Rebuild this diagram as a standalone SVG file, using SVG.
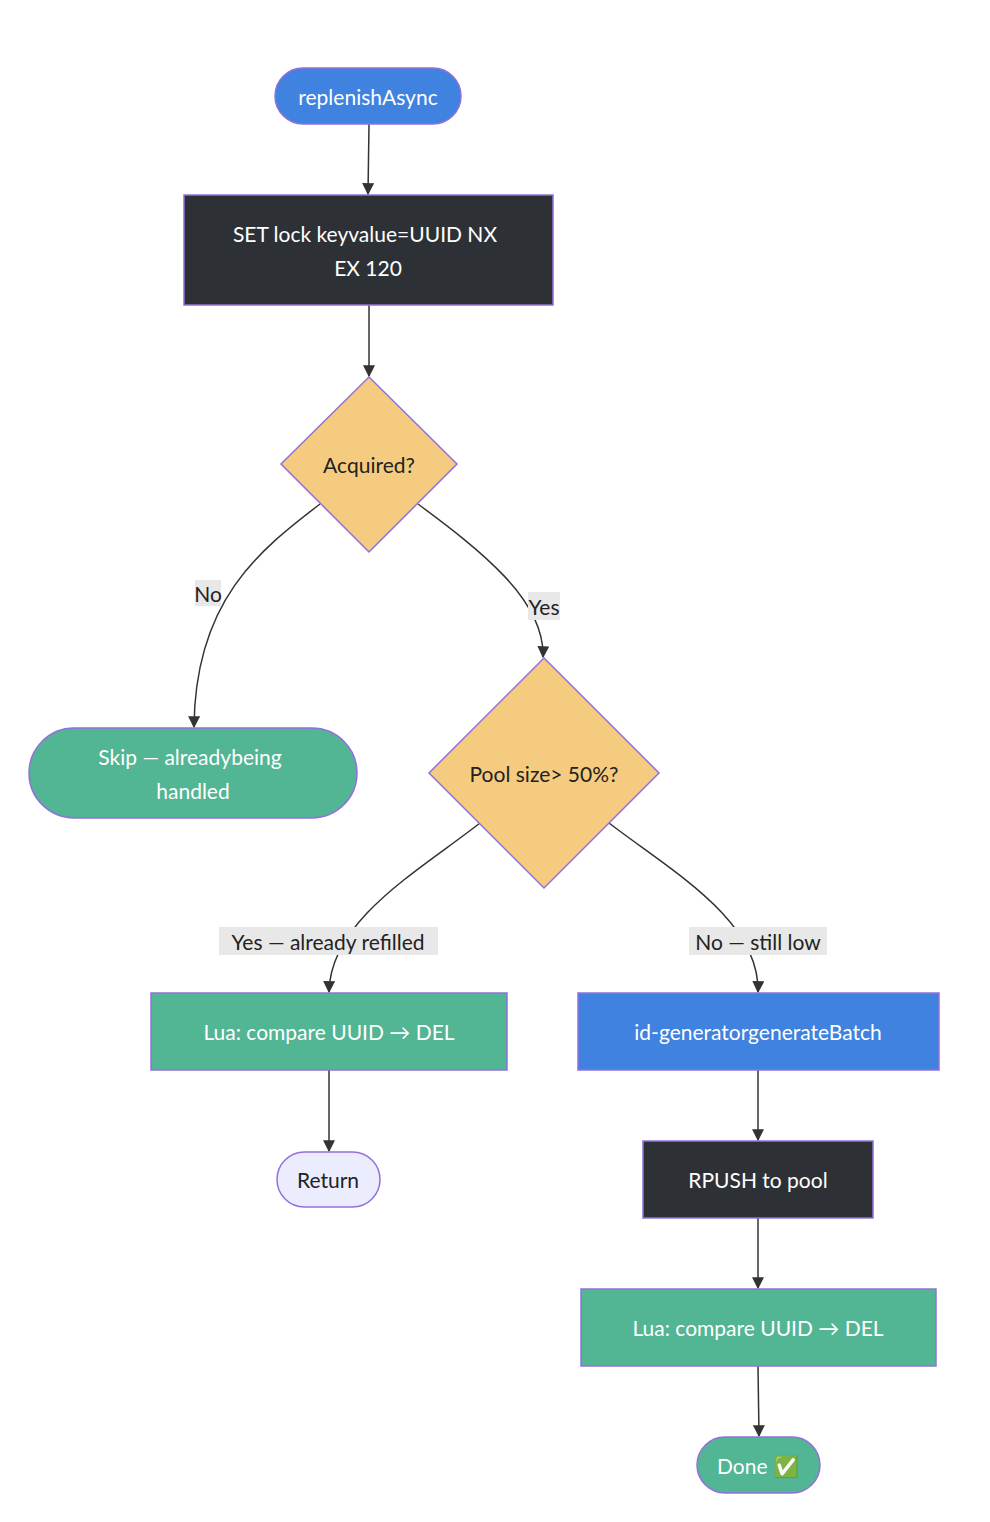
<svg xmlns="http://www.w3.org/2000/svg" width="990" height="1522" viewBox="0 0 990 1522">
<style>
text{font-family:Lato,"Open Sans","DejaVu Sans",sans-serif;font-size:21px;text-anchor:middle;dominant-baseline:central}
.n{stroke:#9370DB;stroke-width:1.5}
.w{fill:#fff}.k{fill:#222}
.e{fill:none;stroke:#333;stroke-width:1.5;marker-end:url(#a)}
.lb{fill:#e8e8e8}
</style>
<defs><marker id="a" viewBox="0 0 10 10" refX="9" refY="5" markerWidth="8" markerHeight="8" orient="auto"><path d="M0,0L10,5L0,10z" fill="#333"/></marker></defs>
<rect width="990" height="1522" fill="#fff"/>
<g id="edges">
<path class="e" d="M369,124L368,194"/>
<path class="e" d="M369,305L369,376"/>
<path class="e" d="M320,504C260,550 195,600 194,727"/>
<path class="e" d="M418,504C480,550 545,600 543,657"/>
<path class="e" d="M480,823C420,870 330,920 329,992"/>
<path class="e" d="M609,823C670,870 760,920 758,992"/>
<path class="e" d="M329,1070L329,1151"/>
<path class="e" d="M758,1070L758,1140"/>
<path class="e" d="M758,1218L758,1288"/>
<path class="e" d="M758,1366L759,1436"/>
<rect class="lb" x="195" y="580" width="26" height="26"/><text x="208" y="593" class="k">No</text>
<rect class="lb" x="528" y="592" width="32" height="28"/><text x="544" y="606" class="k">Yes</text>
<rect class="lb" x="219" y="927" width="219" height="28"/><text x="328" y="941" class="k">Yes — already refilled</text>
<rect class="lb" x="689" y="927" width="138" height="28"/><text x="758" y="941" class="k">No — still low</text>
</g>
<g id="replenishAsync"><rect class="n" x="275" y="68" width="186" height="56" rx="28" fill="#3f82e0"/><text x="368" y="96" class="w">replenishAsync</text></g>
<g id="setlock"><rect class="n" x="184" y="195" width="369" height="110" fill="#2d3135"/><text x="365" y="233" class="w">SET lock keyvalue=UUID NX</text><text x="368" y="267" class="w">EX 120</text></g>
<g id="acquired"><polygon class="n" points="369,377 457,464 369,552 281,464" fill="#f5cc7f"/><text x="369" y="464" class="k">Acquired?</text></g>
<g id="skip"><rect class="n" x="29" y="728" width="328" height="90" rx="45" fill="#52b594"/><text x="190" y="756" class="w">Skip — alreadybeing</text><text x="193" y="790" class="w">handled</text></g>
<g id="pool"><polygon class="n" points="544,658 659,773 544,888 429,773" fill="#f5cc7f"/><text x="544" y="773" class="k">Pool size&gt; 50%?</text></g>
<g id="lua1"><rect class="n" x="151" y="993" width="356" height="77" fill="#52b594"/><text x="329" y="1031" class="w">Lua: compare UUID → DEL</text></g>
<g id="idgen"><rect class="n" x="578" y="993" width="361" height="77" fill="#3f82e0"/><text x="758" y="1031" class="w">id-generatorgenerateBatch</text></g>
<g id="return"><rect class="n" x="277" y="1152" width="103" height="55" rx="27.5" fill="#ECECFF"/><text x="328" y="1179" class="k">Return</text></g>
<g id="rpush"><rect class="n" x="643" y="1141" width="230" height="77" fill="#2d3135"/><text x="758" y="1179" class="w">RPUSH to pool</text></g>
<g id="lua2"><rect class="n" x="581" y="1289" width="355" height="77" fill="#52b594"/><text x="758" y="1327" class="w">Lua: compare UUID → DEL</text></g>
<g id="done"><rect class="n" x="697" y="1437" width="123" height="56" rx="28" fill="#52b594"/><text x="758" y="1465" class="w">Done ✅</text></g>
</svg>
